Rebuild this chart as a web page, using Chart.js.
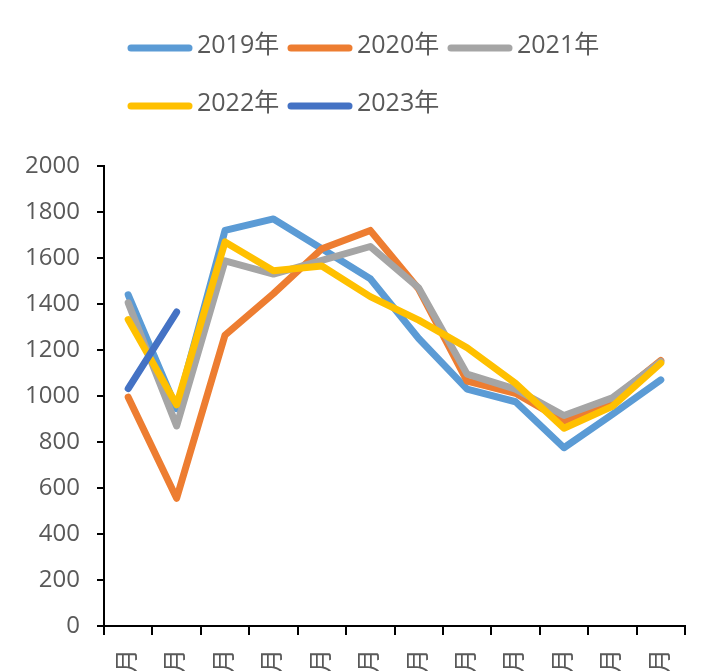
<!DOCTYPE html>
<html><head><meta charset="utf-8">
<script src="https://cdn.jsdelivr.net/npm/chart.js@4/dist/chart.umd.min.js"></script>
<style>html,body{margin:0;padding:0;background:#fff;overflow:hidden;width:720px;height:671px}</style>
</head><body>
<canvas id="c" width="720" height="720"></canvas>
<script>
const months = ['1月','2月','3月','4月','5月','6月','7月','8月','9月','10月','11月','12月'];
const seriesNames = ['2019年','2020年','2021年','2022年','2023年'];
const v2019 = [1440, 945, 1720, 1770, 1640, 1510, 1250, 1030, 975, 775, 920, 1070];
const v2020 = [995, 555, 1265, 1445, 1640, 1720, 1465, 1065, 1012, 890, 985, 1155];
const v2021 = [1405, 870, 1588, 1530, 1590, 1650, 1470, 1095, 1030, 915, 992, 1150];
const v2022 = [1332, 962, 1670, 1545, 1565, 1432, 1330, 1210, 1055, 860, 955, 1143];
const v2023 = [1032, 1365];
const yTicks = [0,200,400,600,800,1000,1200,1400,1600,1800,2000];
const seriesColors = ['#5B9BD5','#ED7D31','#A5A5A5','#FFC000','#4472C4'];

const FONT = '"Open Sans", "Noto Sans CJK SC", sans-serif';
const allValues = [v2019, v2020, v2021, v2022, v2023];

const legendPlugin = {
  id: 'customLegend',
  afterDraw(chart) {
    const ctx = chart.ctx;
    ctx.save();
    ctx.font = '25px ' + FONT;
    ctx.textBaseline = 'middle';
    ctx.textAlign = 'left';
    chart.data.datasets.forEach((ds, i) => {
      const row = Math.floor(i / 3), col = i % 3;
      const x0 = 131 + col * 160, y = 47 + row * 58;
      ctx.strokeStyle = ds.borderColor;
      ctx.lineWidth = 7;
      ctx.lineCap = 'round';
      ctx.beginPath(); ctx.moveTo(x0, y + 1); ctx.lineTo(x0 + 58, y + 1); ctx.stroke();
      ctx.fillStyle = '#595959';
      ctx.fillText(ds.label, x0 + 66, y - 1);
    });
    ctx.restore();
  }
};

const datasets = seriesNames.map((name, i) => ({
  label: name,
  data: allValues[i],
  borderColor: seriesColors[i],
  backgroundColor: seriesColors[i],
  borderWidth: 7,
  borderJoinStyle: 'round',
  borderCapStyle: 'round',
  pointRadius: 0,
  pointHoverRadius: 0,
  tension: 0,
  fill: false,
  order: seriesNames.length - i
}));

new Chart(document.getElementById('c'), {
  type: 'line',
  data: { labels: months, datasets },
  options: {
    responsive: false,
    animation: false,
    events: [],
    layout: { padding: { top: 166, right: 35, left: 0, bottom: 0 } },
    plugins: { legend: { display: false }, tooltip: { enabled: false } },
    scales: {
      x: {
        offset: true,
        grid: { display: true, offset: true, drawOnChartArea: false, drawTicks: true, tickLength: 9, color: '#000', lineWidth: 2 },
        border: { display: true, color: '#000', width: 2 },
        ticks: { color: '#595959', font: { family: FONT, size: 24 }, minRotation: 90, maxRotation: 90, padding: 14, autoSkip: false },
        afterFit(scale) { scale.height = 720 - 626; }
      },
      y: {
        min: 0, max: 2000,
        afterBuildTicks(scale) { scale.ticks = yTicks.map(v => ({ value: v })); },
        grid: { display: true, drawOnChartArea: false, drawTicks: true, tickLength: 7, color: '#000', lineWidth: 2 },
        border: { display: true, color: '#000', width: 2 },
        ticks: { color: '#595959', font: { family: FONT, size: 24 }, padding: 17, callback: (v) => String(v) },
        afterFit(scale) { scale.width = 104; }
      }
    }
  },
  plugins: [legendPlugin]
});
</script>
</body></html>
